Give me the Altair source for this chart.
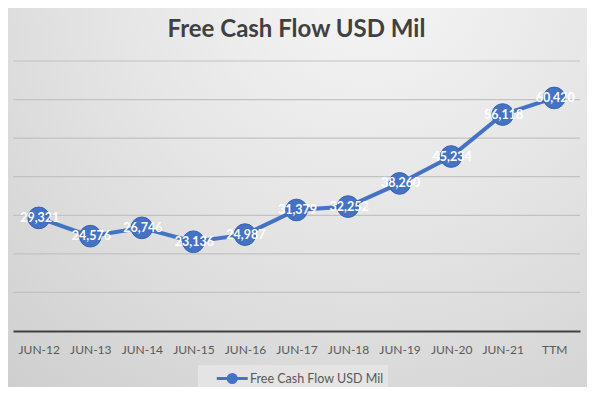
import altair as alt
import pandas as pd

periods = ["JUN-12", "JUN-13", "JUN-14", "JUN-15", "JUN-16", "JUN-17",
           "JUN-18", "JUN-19", "JUN-20", "JUN-21", "TTM"]
fcf = [29321, 24576, 26746, 23136, 24987, 31379, 32252, 38260, 45234, 56118, 60420]
series_name = "Free Cash Flow USD Mil"
y_ticks = [10000, 20000, 30000, 40000, 50000, 60000, 70000]

df = pd.DataFrame({"period": periods, "value": fcf, "series": series_name})
df["label"] = df["value"].map(lambda v: f"{v:,}")
grid_df = pd.DataFrame({"tick": y_ticks})

W, H = 567, 270
PAD = {"left": 5, "top": 53, "right": 7, "bottom": 56}
BLUE = "#4472C4"

bg = alt.Chart(alt.Data(values=[{}])).mark_rect(
    fill=alt.RadialGradient(
        gradient="radial",
        stops=[alt.GradientStop(color="#f6f6f6", offset=0),
               alt.GradientStop(color="#e6e6e6", offset=0.45),
               alt.GradientStop(color="#cfcfcf", offset=1)],
        x1=0.62, y1=0.1, r1=0, x2=0.62, y2=0.1, r2=0.95),
).encode(
    x=alt.value(-PAD["left"]), x2=alt.value(W + PAD["right"]),
    y=alt.value(-PAD["top"]), y2=alt.value(H + PAD["bottom"]),
)

y_scale = alt.Scale(domain=[0, 70000], nice=False)

grid = alt.Chart(grid_df).mark_rule(color="#c2c2c2", strokeWidth=1.2).encode(
    y=alt.Y("tick:Q", scale=y_scale, axis=None))

x_enc = alt.X("period:N", sort=periods, title=None,
              scale=alt.Scale(type="point", padding=0.5),
              axis=alt.Axis(labelAngle=0, labelFont="Lato", labelFontSize=12,
                            labelColor="#595959", labelPadding=13, ticks=False,
                            domainColor="#404040", domainWidth=2, grid=False,
                            zindex=1))
y_enc = alt.Y("value:Q", title=None, scale=y_scale, axis=None)

color_enc = alt.Color("series:N", scale=alt.Scale(range=[BLUE]), title=None,
                      legend=alt.Legend(
                          orient="none", legendX=185, legendY=304,
                          fillColor="#e4e4e4", padding=4,
                          symbolType="M-1,0H3M0.48,0A0.52,0.52 0 1,1 1.52,0A0.52,0.52 0 1,1 0.48,0Z",
                          symbolSize=240, symbolStrokeWidth=3, symbolOffset=13,
                          symbolFillColor=BLUE, symbolStrokeColor=BLUE,
                          labelOffset=16, labelFont="Lato", labelFontSize=12.5,
                          labelColor="#595959"))

line = alt.Chart(df).mark_line(strokeWidth=4).encode(x=x_enc, y=y_enc, color=color_enc)
pts = alt.Chart(df).mark_point(filled=True, size=470, opacity=1, stroke="#3a62aa",
                               strokeWidth=1).encode(x=x_enc, y=y_enc, color=color_enc)
txt = alt.Chart(df).mark_text(color="white", font="Lato", fontWeight="bold",
                              fontSize=12.5, baseline="middle", dx=1).encode(
    x=x_enc, y=y_enc, text="label:N")

chart = alt.layer(bg, grid, line, pts, txt).properties(
    width=W, height=H,
    padding=PAD,
    autosize=alt.AutoSizeParams(type="none"),
    background="#d6d6d6",
    title=alt.TitleParams(series_name, font="Lato", fontSize=24, fontWeight="bold",
                          color="#404040", anchor="middle", offset=-34),
).configure_view(stroke=None)

chart.save("out.html", embed_options={"renderer": "svg", "actions": False})
